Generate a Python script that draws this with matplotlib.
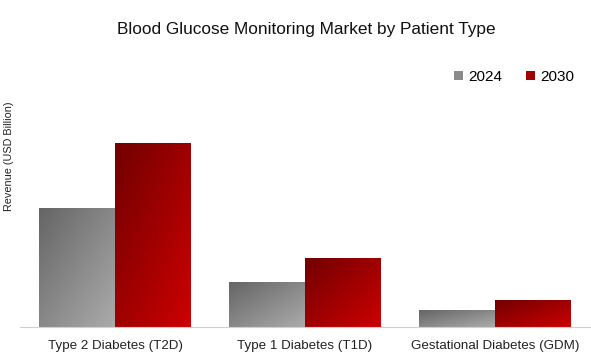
import numpy as np
import matplotlib
matplotlib.use("Agg")
import matplotlib.pyplot as plt
from matplotlib.colors import LinearSegmentedColormap
from matplotlib.patches import Patch

plt.rcParams["font.family"] = ["Liberation Sans", "DejaVu Sans"]

# Data (arbitrary units)
categories = ["Type 2 Diabetes (T2D)", "Type 1 Diabetes (T1D)", "Gestational Diabetes (GDM)"]
years = ["2024", "2030"]
values_2024 = [11.9, 4.5, 1.7]
values_2030 = [18.4, 6.9, 2.7]

gray_cmap = LinearSegmentedColormap.from_list("g", ["#656565", "#ababab"])
red_cmap = LinearSegmentedColormap.from_list("r", ["#720000", "#cc0000"])


def gradient_fill(ax, bars, cmap):
    # diagonal gradient: dark top-left -> light bottom-right
    yy, xx = np.mgrid[0:1:100j, 0:1:100j]
    grad = (xx + (1 - yy)) / 2.0
    for b in bars:
        x0, y0 = b.get_x(), b.get_y()
        w, h = b.get_width(), b.get_height()
        img = ax.imshow(grad, cmap=cmap, extent=[x0, x0 + w, y0, y0 + h],
                        origin="lower", aspect="auto", zorder=2, vmin=0, vmax=1)
        img.set_clip_path(b)


fig = plt.figure(figsize=(5.91, 3.61), dpi=100)
ax = fig.add_axes([20 / 591, 34 / 361, 570 / 591, 197 / 361])

x = np.arange(len(categories))
w = 0.4
b1 = ax.bar(x - w / 2, values_2024, w, facecolor="none", edgecolor="none")
b2 = ax.bar(x + w / 2, values_2030, w, facecolor="none", edgecolor="none")
gradient_fill(ax, b1, gray_cmap)
gradient_fill(ax, b2, red_cmap)

ax.set_xlim(-0.5, 2.5)
ax.set_ylim(0, 19.7)
ax.set_yticks([])
ax.set_xticks(x)
ax.set_xticklabels(categories, fontsize=9.6, color="#222222")
ax.tick_params(axis="x", length=0, pad=9)
for s in ["top", "right", "left"]:
    ax.spines[s].set_visible(False)
ax.spines["bottom"].set_color("#d0d0d0")

fig.text(0.518, 0.917, "Blood Glucose Monitoring Market by Patient Type",
         ha="center", va="center", fontsize=12.4, color="#111111")
fig.text(9 / 591, 1 - 156 / 361, "Revenue (USD Billion)", rotation=90,
         ha="center", va="center", fontsize=7.8, color="#222222")

handles = [Patch(facecolor="#8a8a8a"), Patch(facecolor="#a00000")]
fig.legend(handles, years, loc="center", bbox_to_anchor=(514 / 591, 1 - 77 / 361),
           ncol=2, frameon=False, fontsize=11, handlelength=0.6, handleheight=0.6,
           handletextpad=0.3, columnspacing=1.6)

fig.savefig("out.png", dpi=100)
